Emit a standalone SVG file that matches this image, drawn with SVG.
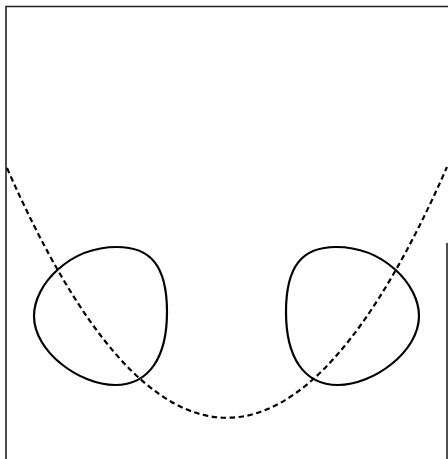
<svg xmlns="http://www.w3.org/2000/svg" width="448" height="459" viewBox="0 0 448 459">
<style>
.frame{fill:none;stroke:#222;stroke-width:1.6}
.loop{fill:none;stroke:#000;stroke-width:2.2}
.curve{fill:none;stroke:#000;stroke-width:2.2;stroke-dasharray:5.5 3.5}
</style>
<rect width="448" height="459" fill="#fff"/>
<g id="frame">
<path class="frame" d="M6 459 V6.5 H448"/>
<path class="frame" d="M447 243 V459"/>
</g>
<g id="loop-left">
<path class="loop" d="M117 247 C150 247 167 265 167 312 C167 356 150 385 115 385 C80 385 34 352 34 316 C34 284 70 247 117 247 Z"/>
</g>
<g id="loop-right">
<path class="loop" d="M336 247 C303 247 286 265 286 312 C286 356 303 385 338 385 C373 385 419 352 419 316 C419 284 383 247 336 247 Z"/>
</g>
<g id="connectors">
<path class="curve" d="M7 168 Q227 668 447 167"/>
</g>
</svg>
